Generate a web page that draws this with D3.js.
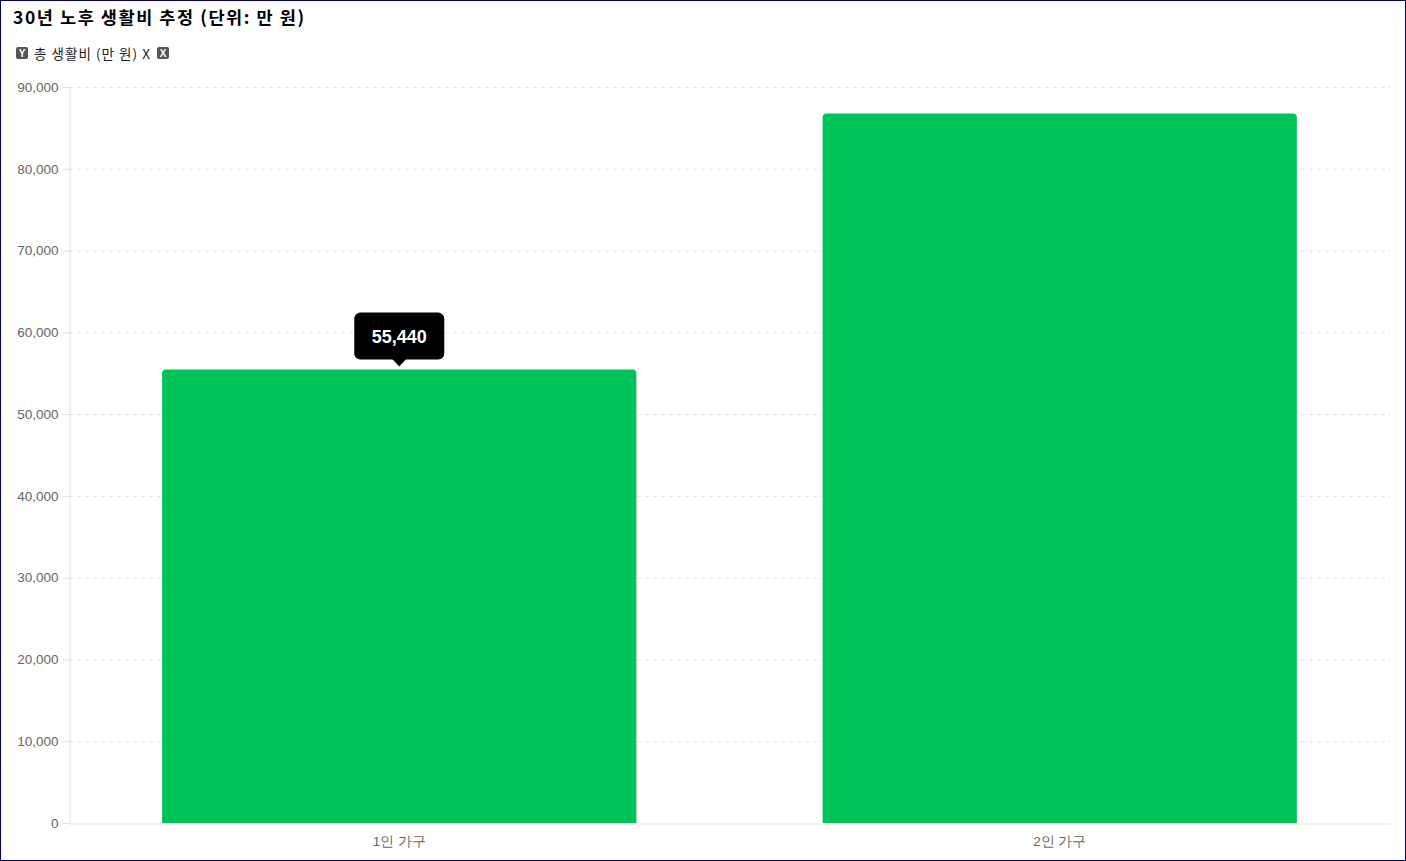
<!DOCTYPE html>
<html><head><meta charset="utf-8">
<script src="https://cdn.jsdelivr.net/npm/d3@7/dist/d3.min.js"></script>
<style>
html,body{margin:0;padding:0;background:#fff;}
svg{display:block;font-family:"Noto Sans CJK KR","Noto Sans",sans-serif;}
</style></head><body>
<svg id="c" width="1406" height="861"></svg>
<script>
const categories = ["1인 가구", "2인 가구"];
const values = [55440, 86760];
const yTicks = [0,10000,20000,30000,40000,50000,60000,70000,80000,90000];
const title = "30년 노후 생활비 추정 (단위: 만 원)";
const seriesName = "총 생활비 (만 원) X";
const tooltipIndex = 0;

const svg = d3.select("#c");
const W = 1406, H = 861;
const m = {left:69, right:16, top:87, bottom:38};
const fmt = d3.format(",");

svg.append("rect").attr("x",0.5).attr("y",0.5).attr("width",W-1).attr("height",H-1)
  .attr("fill","#fff").attr("stroke","#000066").attr("stroke-width",1);

const x = d3.scaleBand().domain(categories).range([m.left, W-m.right]).padding(0);
const y = d3.scaleLinear().domain([0,90000]).range([H-m.bottom, m.top]);

// title
svg.append("text").attr("x",13).attr("y",24).attr("font-size",17.5).attr("font-weight","bold")
  .attr("fill","#000").attr("textLength",291).attr("lengthAdjust","spacing").text(title);

// legend
const lg = svg.append("g").attr("font-size",13.5);
function badge(xp, letter){
  lg.append("rect").attr("x",xp).attr("y",47).attr("width",12).attr("height",12).attr("rx",2).attr("fill","#555");
  lg.append("text").attr("x",xp+6).attr("y",57).attr("text-anchor","middle").attr("font-size",10)
    .attr("font-weight","bold").attr("fill","#fff").attr("font-family","Arial,Liberation Sans,sans-serif").text(letter);
}
badge(16,"Y");
lg.append("text").attr("x",34).attr("y",59).attr("fill","#222")
  .attr("textLength",116).attr("lengthAdjust","spacing").text(seriesName);
badge(157,"X");

// grid
svg.append("g").selectAll("line").data(yTicks.filter(d=>d>0)).join("line")
  .attr("x1",m.left).attr("x2",W-m.right).attr("y1",d=>y(d)+0.5).attr("y2",d=>y(d)+0.5)
  .attr("stroke","#e3e3e3").attr("stroke-dasharray","4,4");

// y axis
const ya = svg.append("g").attr("transform",`translate(${m.left+0.5},0)`)
  .call(d3.axisLeft(y).tickValues(yTicks).tickFormat(fmt).tickSize(7).tickPadding(4));
ya.select(".domain").attr("stroke","#e0e0e0");
ya.selectAll(".tick line").attr("stroke","#e0e0e0");
ya.selectAll(".tick text").attr("fill","#666").attr("font-size",13.5)
  .attr("font-family","Arial,'Liberation Sans',sans-serif");

// x axis
const xa = svg.append("g").attr("transform",`translate(0,${H-m.bottom+0.5})`)
  .call(d3.axisBottom(x).tickSize(0).tickPadding(13));
xa.select(".domain").attr("stroke","#e0e0e0");
xa.selectAll(".tick text").attr("fill","#666").attr("font-size",13.5);

// bars
const bw = x.bandwidth()*0.718;
const r = 4;
svg.append("g").selectAll("path").data(values).join("path")
  .attr("fill","#00C357")
  .attr("d",(d,i)=>{
    const cx = x(categories[i]) + x.bandwidth()/2;
    const x0 = cx - bw/2, x1 = cx + bw/2, y0 = y(d), yb = y(0);
    return `M${x0},${yb}V${y0+r}Q${x0},${y0} ${x0+r},${y0}H${x1-r}Q${x1},${y0} ${x1},${y0+r}V${yb}Z`;
  });

// tooltip
const tv = values[tooltipIndex];
const tcx = x(categories[tooltipIndex]) + x.bandwidth()/2;
const tipBottom = y(tv) - 10;
const tg = svg.append("g");
const tw = 90, th = 47;
tg.append("rect").attr("x",tcx-tw/2).attr("y",tipBottom-th).attr("width",tw).attr("height",th)
  .attr("rx",6).attr("fill","#000");
tg.append("path").attr("d",`M${tcx-7},${tipBottom-0.5}L${tcx},${tipBottom+7}L${tcx+7},${tipBottom-0.5}Z`).attr("fill","#000");
tg.append("text").attr("x",tcx).attr("y",tipBottom-th/2+6.5).attr("text-anchor","middle")
  .attr("font-size",18).attr("font-weight","bold").attr("fill","#fff")
  .attr("font-family","Arial,'Liberation Sans',sans-serif").text(fmt(tv));
</script>
</body></html>
